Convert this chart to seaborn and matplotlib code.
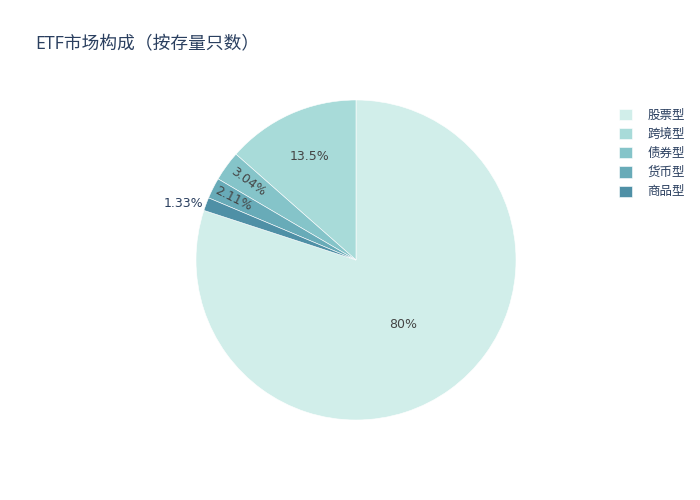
import numpy as np
import seaborn as sns
import matplotlib
matplotlib.use("Agg")
import matplotlib.pyplot as plt

# data
categories = ["股票型", "跨境型", "债券型", "货币型", "商品型"]
shares = [80.0, 13.5, 3.04, 2.11, 1.33]
colors = ["#d1eeea", "#a8dbd9", "#85c4c9", "#68abb8", "#4f90a6"]

# step 1: style
sns.set_style("white")
plt.rcParams["font.family"] = ["Open Sans", "Noto Sans CJK SC", "DejaVu Sans"]
num_font = ["DejaVu Sans", "Noto Sans CJK SC"]

fig = plt.figure(figsize=(7, 5), dpi=100)
ax = fig.add_axes([196 / 700, 80 / 500, 320 / 700, 320 / 500])

# step 2: pie, counterclockwise, first slice ending at 12 o'clock
total = sum(shares)
start = 90 - 360 * shares[0] / total
wedges, texts = ax.pie(
    shares,
    colors=sns.color_palette(colors),
    startangle=start,
    counterclock=True,
    radius=1,
    wedgeprops=dict(linewidth=0.4, edgecolor="white"),
)
ax.set_xlim(-1, 1)
ax.set_ylim(-1, 1)
ax.set_aspect("equal")

# step 3: percent labels (plotly-like placement)
label_r = [0.5, 0.71, 0.83, 0.86, 1.02]
for w, val, r in zip(wedges, shares, label_r):
    mid = np.deg2rad((w.theta1 + w.theta2) / 2)
    x, y = r * np.cos(mid), r * np.sin(mid)
    txt = f"{val:g}%"
    pct = val / total * 100
    if pct < 1.5:
        ax.text(x, y - 0.005, txt, ha="right", va="center", fontsize=9, color="#2a3f5f",
                family=num_font)
    elif pct < 5:
        rot = np.rad2deg(mid) - 180
        ax.text(x, y, txt, ha="center", va="center", fontsize=9, color="#444444",
                rotation=rot, rotation_mode="anchor", family=num_font)
    else:
        ax.text(x, y, txt, ha="center", va="center", fontsize=9, color="#444444",
                family=num_font)

# step 4: title + legend
fig.text(35 / 700, 1 - 44 / 500, "ETF市场构成（按存量只数）", fontsize=12.75,
         color="#2a3f5f", ha="left", va="center")
fig.legend(
    wedges, categories,
    loc="upper left", bbox_to_anchor=(619 / 700, 1 - 108.5 / 500),
    frameon=False, fontsize=9, labelcolor="#2a3f5f",
    handlelength=1.0, handleheight=1.0, handletextpad=1.25,
    labelspacing=0.5, borderaxespad=0, borderpad=0,
)

fig.savefig("out.png", dpi=100)
